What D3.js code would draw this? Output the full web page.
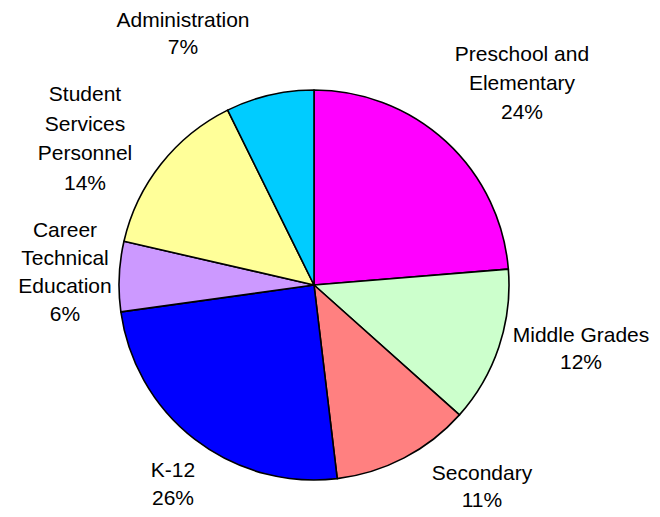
<!DOCTYPE html>
<html>
<head>
<meta charset="utf-8">
<script src="https://cdn.jsdelivr.net/npm/d3@7"></script>
<style>
  body { margin: 0; background: #fff; }
  svg text { font-family: Arial, "Liberation Sans", sans-serif; font-size: 21px; fill: #000; }
</style>
</head>
<body>
<div id="pie-chart"></div>
<script>
// slice order, clockwise from 12 o'clock
const categories = ["Preschool and Elementary", "Middle Grades", "Secondary", "K-12",
    "Career Technical Education", "Student Services Personnel", "Administration"];
// shares as measured from the slice angles
const shares = [23.7, 12.9, 11.5, 24.7, 5.8, 14.1, 7.3];
// percent labels as printed
const pctLabels = ["24%", "12%", "11%", "26%", "6%", "14%", "7%"];
// how each name wraps
const nameLines = [["Preschool and", "Elementary"], ["Middle Grades"], ["Secondary"], ["K-12"],
    ["Career", "Technical", "Education"], ["Student", "Services", "Personnel"], ["Administration"]];
const colors = ["#ff00ff", "#ccffcc", "#ff8080", "#0000ff", "#cc99ff", "#ffff99", "#00ccff"];

class PieChart {
    constructor(width, height) {
        this.width = width;
        this.height = height;
        this.cx = 314;
        this.cy = 285;
        this.radius = 195;
        // label block: centre x, first baseline, line step
        this.labelLayout = [
            [522, 61, 29], [581, 342, 27], [482, 480, 27], [173, 477, 28],
            [65, 237, 28], [85, 101, 29.5], [183, 27, 26.5]
        ];
    }

    draw() {
        let svg = d3.select("#pie-chart").append("svg")
            .attr("width", this.width)
            .attr("height", this.height);

        let pie = d3.pie().sort(null).value(d => d.share);
        let arc = d3.arc().innerRadius(0).outerRadius(this.radius);

        let data = categories.map((c, i) => ({
            name: c, share: shares[i], pct: pctLabels[i], lines: nameLines[i], color: colors[i]
        }));

        let g = svg.append("g").attr("transform", `translate(${this.cx},${this.cy})`);
        g.selectAll("path")
            .data(pie(data))
            .enter().append("path")
            .attr("d", arc)
            .attr("fill", d => d.data.color)
            .attr("stroke", "#000")
            .attr("stroke-width", 1.6)
            .attr("stroke-linejoin", "round");

        let labels = svg.append("g").selectAll("text")
            .data(data)
            .enter().append("text")
            .attr("text-anchor", "middle");

        let layout = this.labelLayout;
        labels.each(function(d, i) {
            let [x, y, step] = layout[i];
            let t = d3.select(this);
            d.lines.concat([d.pct]).forEach((line, k) => {
                t.append("tspan").attr("x", x).attr("y", y + k * step).text(line);
            });
        });
    }
}

new PieChart(660, 517).draw();
</script>
</body>
</html>
